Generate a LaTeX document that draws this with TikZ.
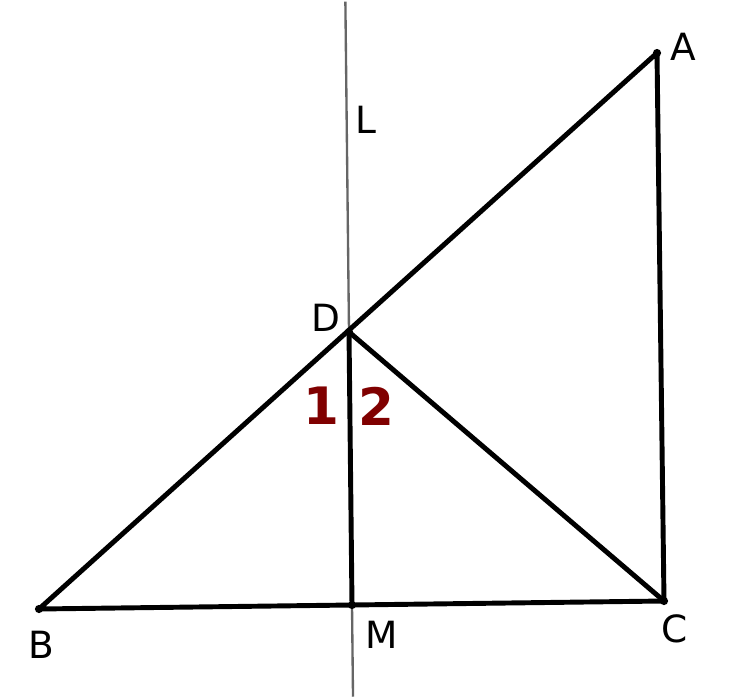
\documentclass[tikz,border=0pt]{standalone}
\usepackage{fontspec}
\setmainfont{DejaVu Sans}
\usepackage{xcolor}
\usetikzlibrary{calc}
\definecolor{anglered}{RGB}{128,0,0}

\begin{document}
\begin{tikzpicture}[
  x=0.03cm, y=-0.03cm,
  seg/.style={line width=4.2pt, line cap=round, line join=round},
  lineL/.style={draw=gray!80!black, line width=2pt},
  dot/.style={circle, fill=black, inner sep=0pt, minimum size=7pt},
  lbl/.style={font=\fontsize{32}{32}\selectfont, inner sep=0pt},
  num/.style={font=\fontsize{44}{44}\selectfont\bfseries, text=anglered,
              inner sep=0pt}
]
  \useasboundingbox (0,0) rectangle (732,697);

  % points
  \coordinate (A) at (657,53);
  \coordinate (B) at (39,609);
  \coordinate (C) at (664,601);
  \coordinate (D) at (349,332);
  \coordinate (M) at (352,605);

  % line L through D and M
  \coordinate (Ltop) at ($(D)!-1.21!(M)$);
  \coordinate (Lbot) at ($(D)!1.336!(M)$);
  \draw[lineL] (Ltop) -- (Lbot);

  % triangle and segments
  \draw[seg] (B) -- (A) -- (C) -- cycle;
  \draw[seg] (D) -- (C);
  \draw[seg] (D) -- (M);

  \foreach \p in {A,B,C,D,M}
    \node[dot] (dot\p) at (\p) {};

  % labels
  \node[lbl] (labA) at (683,47) {A};
  \node[lbl] (labL) at (366,120) {L};
  \node[lbl] (labD) at (326,318) {D};
  \node[lbl] (labB) at (41,645) {B};
  \node[lbl] (labM) at (382,635) {M};
  \node[lbl] (labC) at (675,629) {C};
  \node[num] (one) at (321,406) {1};
  \node[num] (two) at (376,406) {2};
\end{tikzpicture}
\end{document}
